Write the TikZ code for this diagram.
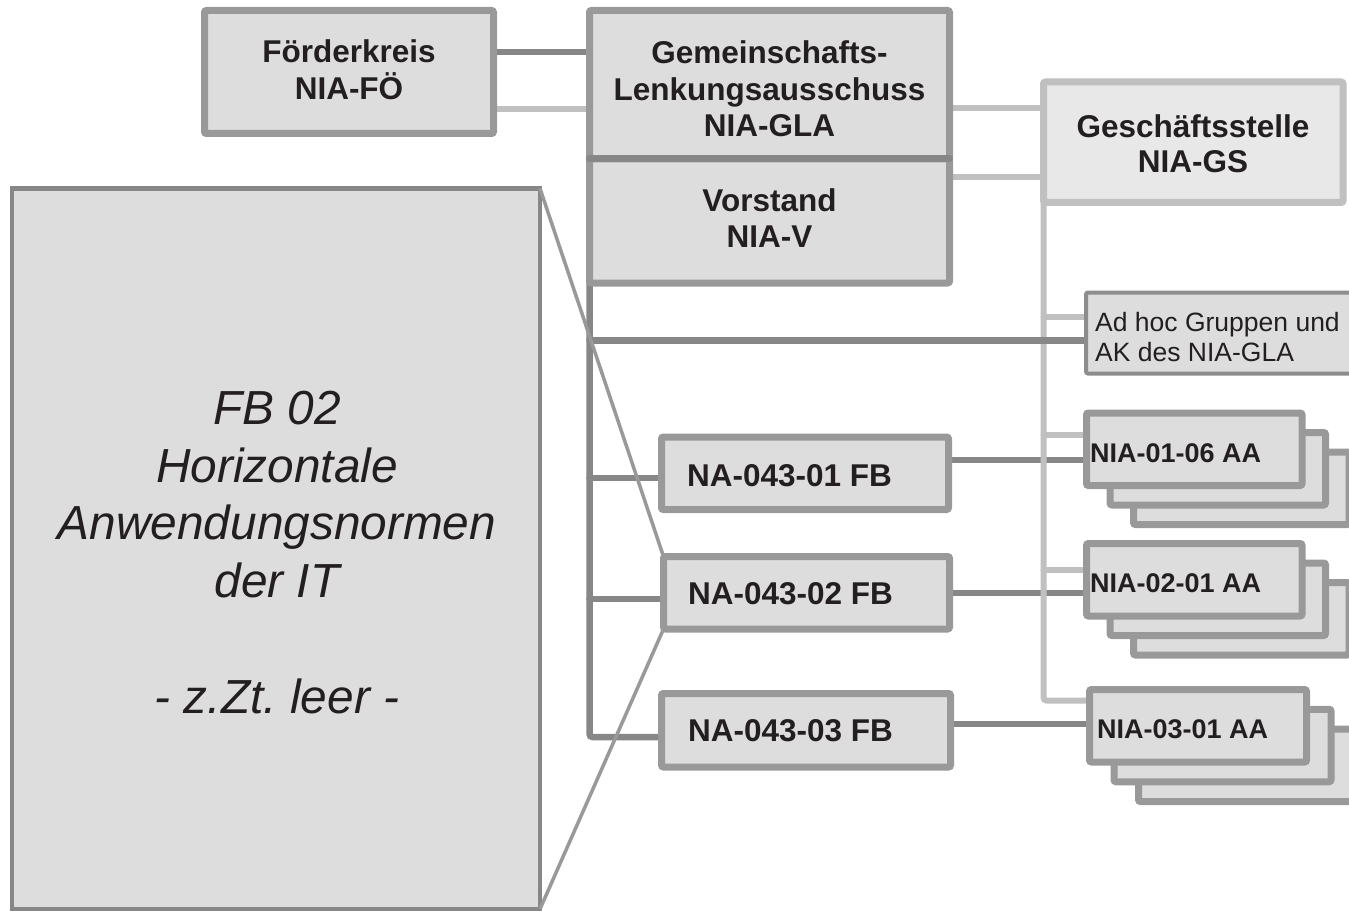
\documentclass[tikz,border=0pt]{standalone}
\usepackage{fontspec}
\setmainfont{Liberation Sans}
\usetikzlibrary{backgrounds}
\definecolor{boxfill}{HTML}{DDDDDD}
\definecolor{gsfill}{HTML}{E8E8E8}
\definecolor{boxline}{HTML}{999999}
\definecolor{darkline}{HTML}{878787}
\definecolor{lightline}{HTML}{C0C0C0}
\definecolor{ink}{HTML}{231F20}
\frenchspacing
\begin{document}
\begin{tikzpicture}[x=1pt,y=-1pt,
  box/.style={draw=boxline, fill=boxfill, line width=7pt, rounded corners=2pt,
    inner sep=0pt, outer sep=0pt},
  gsbox/.style={box, draw=lightline, fill=gsfill},
  adbox/.style={box, draw=darkline!95!white, line width=4pt},
  bigbox/.style={draw=darkline, fill=boxfill, line width=4.5pt, inner sep=0pt, outer sep=0pt},
  dark/.style={draw=darkline, line width=6.5pt, line cap=round, rounded corners=3pt},
  light/.style={draw=lightline, line width=6pt, line cap=round, rounded corners=3pt},
  zoomline/.style={draw=boxline, line width=3.5pt},
  divider/.style={draw=darkline, line width=7pt, line cap=round},
  headtxt/.style={text=ink, inner sep=0pt, align=center,
    font=\bfseries\fontsize{31.5}{36.5}\selectfont},
  fbtxt/.style={text=ink, inner sep=0pt, anchor=base west,
    font=\bfseries\fontsize{31.5}{36.5}\selectfont},
  aatxt/.style={text=ink, inner sep=0pt, anchor=base west,
    font=\bfseries\fontsize{27}{31}\selectfont},
  adtxt/.style={text=ink, inner sep=0pt, anchor=west, align=left,
    font=\fontsize{26.5}{30}\selectfont},
  bigtxt/.style={text=ink, inner sep=0pt, align=center,
    font=\itshape\fontsize{47.8}{57.8}\selectfont},
]
\clip (0,0) rectangle (1349,912);

% left panel: the second specialist division
\node[bigbox, minimum width=528pt, minimum height=720.5pt] (FBbig) at (276,548.75) {};
\node[bigtxt] (FBbigt) at (277,552.4)
  {FB 02\\Horizontale\\Anwendungsnormen\\der IT\\[57.8pt]- z.Zt. leer -};

% top row
\node[box, minimum width=289pt, minimum height=123pt] (FK) at (349,72) {};
\node[headtxt, font=\bfseries\fontsize{31.5}{37}\selectfont] (FKt) at (349,70) {Förderkreis\\NIA-FÖ};

\node[box, minimum width=360pt, minimum height=148.5pt] (GLA) at (769.5,84.75) {};
\node[box, minimum width=360pt, minimum height=124pt] (V) at (769.5,221) {};
\draw[divider] (GLA.south west) -- (GLA.south east);
\node[headtxt] (GLAt) at (769.5,89) {Gemeinschafts-\\Lenkungsausschuss\\NIA-GLA};
\node[headtxt, font=\bfseries\fontsize{31.5}{36}\selectfont] (Vt) at (769.5,218.5) {Vorstand\\NIA-V};

\node[gsbox, minimum width=299.5pt, minimum height=120.5pt] (GS) at (1193.25,142.25) {};
\node[headtxt, font=\bfseries\fontsize{31.5}{35}\selectfont] (GSt) at (1193,144) {Geschäftsstelle\\NIA-GS};

% ad hoc groups
\node[adbox, minimum width=284pt, minimum height=81pt] (AH) at (1228,333) {};
\node[adtxt] (AHt) at (1095,337) {Ad hoc Gruppen und\\AK des NIA-GLA};

% specialist divisions
\node[box, minimum width=287pt, minimum height=72.5pt] (FB1) at (805,473.25) {};
\node[fbtxt] (FB1t) at (687,486) {NA-043-01 FB};
\node[box, minimum width=286pt, minimum height=72.5pt] (FB2) at (806.5,592.75) {};
\node[fbtxt] (FB2t) at (688,604) {NA-043-02 FB};
\node[box, minimum width=289pt, minimum height=73.5pt] (FB3) at (806,730.25) {};
\node[fbtxt] (FB3t) at (688,741.5) {NA-043-03 FB};

% working committee stacks
\foreach \n/\cx/\cy/\w/\dx/\dy in {A1/1194.25/449.25/215.5/23.5/19.5,
                                   A2/1194.25/579.75/215.5/23.5/19.5,
                                   A3/1198/725.75/217/24.5/19.75}{
  \node[box, minimum width=\w pt, minimum height=72.5pt] (\n c) at (\cx+2*\dx,\cy+2*\dy) {};
  \node[box, minimum width=\w pt, minimum height=72.5pt] (\n b) at (\cx+\dx,\cy+\dy) {};
  \node[box, minimum width=\w pt, minimum height=72.5pt] (\n) at (\cx,\cy) {};
}
\node[aatxt] (A1t) at (1090,462) {NIA-01-06 AA};
\node[aatxt] (A2t) at (1090,592.7) {NIA-02-01 AA};
\node[aatxt] (A3t) at (1097,738) {NIA-03-01 AA};

% connectors
\begin{scope}[on background layer]
  \fill[white] (0,0) rectangle (1349,912);

  \draw[dark] (FK.east |- 0,52) -- (GLA.west |- 0,52);
  \draw[light] (FK.east |- 0,109) -- (GLA.west |- 0,109);
  \draw[light] (GLA.east |- 0,108) -- (GS.west |- 0,108);
  \draw[light] (V.east |- 0,177) -- (GS.west |- 0,177);

  % dark trunk from the board down to the divisions
  \draw[dark] (V.south west) -- (V.west |- 0,737) -- (FB3.west |- 0,737);
  \draw[dark] (V.west |- 0,478) -- (FB1.west |- 0,478);
  \draw[dark] (V.west |- 0,599) -- (FB2.west |- 0,599);

  % divisions to their committees
  \draw[dark] (FB1.east |- 0,460) -- (A1.west |- 0,460);
  \draw[dark] (FB2.east |- 0,593) -- (A2.west |- 0,593);
  \draw[dark] (FB3.east |- 0,724) -- (A3.west |- 0,724);

  % light trunk from the office
  \draw[light] (GS.south west) -- (GS.west |- 0,700.5) -- (A3.west |- 0,700.5);
  \draw[light] (GS.west |- 0,317) -- (AH.west |- 0,317);
  \draw[light] (GS.west |- 0,435) -- (A1.west |- 0,435);
  \draw[light] (GS.west |- 0,570) -- (A2.west |- 0,570);

  \draw[dark] (V.west |- 0,340.5) -- (AH.west |- 0,340.5);
\end{scope}

% zoom lines from the division box to the left panel
\draw[zoomline] (FBbig.north east) -- (FB2.north west);
\draw[zoomline] (FBbig.south east) -- (FB2.south west);
\end{tikzpicture}
\end{document}
